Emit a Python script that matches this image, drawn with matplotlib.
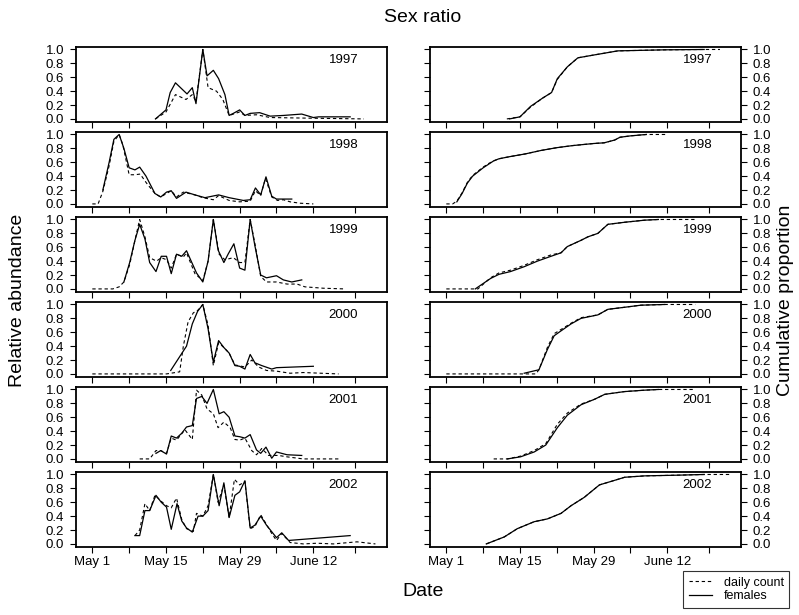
import matplotlib
matplotlib.use('Agg')
import matplotlib.pyplot as plt
from matplotlib.lines import Line2D

plt.rcParams['font.family'] = ['Liberation Sans', 'DejaVu Sans']

years = ['1997', '1998', '1999', '2000', '2001', '2002']

# x tick positions are days after May 1
tick_days = [0, 7, 14, 21, 28, 35, 42, 50]
tick_labels = ['May 1', '', 'May 15', '', 'May 29', '', 'June 12', '']

# ---- relative abundance (left column): daily count (dashed) and females (solid)
daily_97_x = [12, 14, 15.8, 17.8, 19, 19.7, 21, 22, 23.6, 24.8, 26, 28, 29, 31.2, 33.8, 42, 51.6]
daily_97_y = [0.0, 0.10, 0.35, 0.28, 0.35, 0.25, 1.0, 0.45, 0.40, 0.28, 0.05, 0.10, 0.05, 0.06, 0.02, 0.01, 0.0]
fem_97_x = [12, 14, 14.8, 15.8, 16.9, 18, 19, 19.7, 21, 21.8, 23, 24, 25.2, 26, 26.8, 28, 29, 30, 31.8, 33.8, 36.3, 39.8, 42, 43, 49]
fem_97_y = [0.0, 0.13, 0.38, 0.52, 0.44, 0.36, 0.45, 0.22, 1.0, 0.62, 0.70, 0.58, 0.35, 0.05, 0.08, 0.13, 0.05, 0.08, 0.09, 0.04, 0.05, 0.07, 0.02, 0.03, 0.03]

daily_98_x = [0, 1.1, 2, 3.2, 4.1, 5.1, 5.8, 7, 8.1, 9.1, 10.3, 11.9, 13, 14.1, 15, 16, 17.3, 19.5, 21, 23, 24, 26, 28, 30, 31, 32, 32.9, 34.1, 35.2, 36.3, 37.6, 39.5, 42]
daily_98_y = [0.0, 0.0, 0.18, 0.55, 0.90, 1.0, 0.85, 0.42, 0.42, 0.43, 0.30, 0.15, 0.10, 0.15, 0.19, 0.10, 0.17, 0.13, 0.09, 0.06, 0.12, 0.05, 0.03, 0.04, 0.19, 0.12, 0.37, 0.10, 0.05, 0.06, 0.03, 0.01, 0.0]
fem_98_x = [2, 3.2, 4.1, 5.1, 6, 7, 8.1, 9, 10.2, 11.9, 13, 14.1, 15, 16, 17.8, 19.5, 21.4, 24, 26, 28.7, 30, 31, 32, 33, 34.1, 35, 37.9]
fem_98_y = [0.2, 0.6, 0.93, 1.0, 0.80, 0.52, 0.49, 0.53, 0.40, 0.15, 0.10, 0.17, 0.19, 0.08, 0.17, 0.13, 0.09, 0.13, 0.09, 0.05, 0.06, 0.23, 0.13, 0.39, 0.11, 0.07, 0.07]

daily_99_x = [0, 3.9, 5.1, 6, 7.1, 8.1, 9, 10, 10.9, 12.2, 13.1, 14.1, 15, 16, 17.3, 17.9, 19.5, 21, 22, 23, 24.1, 25.2, 26.8, 28, 29, 30, 30.9, 32, 33.1, 35, 37, 38.9, 40.4, 43.9, 48]
daily_99_y = [0.0, 0.0, 0.03, 0.10, 0.35, 0.70, 1.0, 0.75, 0.45, 0.40, 0.45, 0.42, 0.30, 0.50, 0.46, 0.52, 0.22, 0.12, 0.40, 1.0, 0.50, 0.42, 0.45, 0.38, 0.38, 1.0, 0.65, 0.18, 0.10, 0.10, 0.07, 0.07, 0.03, 0.01, 0.0]
fem_99_x = [6, 7.1, 8.1, 9, 10, 10.9, 12.1, 13.1, 14.1, 15, 16, 17, 17.9, 19.8, 21, 22, 23, 23.9, 25, 25.8, 26.9, 28, 29, 30, 30.9, 32, 33.1, 35, 36.3, 37.9, 39.8]
fem_99_y = [0.10, 0.38, 0.70, 0.93, 0.72, 0.38, 0.25, 0.47, 0.47, 0.22, 0.50, 0.47, 0.55, 0.23, 0.10, 0.40, 1.0, 0.56, 0.38, 0.50, 0.65, 0.30, 0.27, 1.0, 0.62, 0.20, 0.16, 0.19, 0.13, 0.10, 0.13]

daily_00_x = [0, 14.1, 16.6, 17.3, 18.2, 19.2, 20.1, 21, 22, 23, 24, 25, 26, 27.1, 29, 30.3, 31.6, 33.1, 35, 37.6, 40.1, 46.8]
daily_00_y = [0.0, 0.0, 0.03, 0.40, 0.75, 0.88, 0.92, 1.0, 0.70, 0.12, 0.45, 0.38, 0.30, 0.13, 0.10, 0.20, 0.10, 0.05, 0.04, 0.01, 0.02, 0.0]
fem_00_x = [14.9, 17.9, 19, 20, 21, 22, 23, 24, 25, 26, 27.1, 28, 29, 30, 30.9, 32.2, 34.1, 35, 42]
fem_00_y = [0.05, 0.40, 0.72, 0.90, 1.0, 0.65, 0.17, 0.48, 0.38, 0.30, 0.12, 0.11, 0.07, 0.28, 0.16, 0.12, 0.07, 0.09, 0.11]

daily_01_x = [9, 10.9, 12.1, 13, 14.1, 15, 16, 17.6, 19, 19.8, 20.8, 21.8, 23, 23.9, 25, 26.2, 27.1, 28, 29, 30.3, 31.2, 32.2, 33.5, 35.4, 37, 40.1, 46.8]
daily_01_y = [0.0, 0.0, 0.12, 0.12, 0.08, 0.30, 0.27, 0.42, 0.28, 0.99, 0.92, 0.72, 0.65, 0.45, 0.53, 0.45, 0.28, 0.27, 0.30, 0.12, 0.06, 0.15, 0.05, 0.05, 0.03, 0.0, 0.0]
fem_01_x = [12.1, 13, 14.1, 15, 16, 17, 17.9, 19, 19.8, 20.8, 21.8, 23, 24.1, 25, 26, 27.1, 28, 29, 30, 31.2, 32, 33, 34.1, 35, 37, 39.8]
fem_01_y = [0.08, 0.12, 0.07, 0.33, 0.30, 0.37, 0.46, 0.48, 0.87, 0.90, 0.80, 1.0, 0.65, 0.68, 0.60, 0.33, 0.32, 0.30, 0.35, 0.13, 0.08, 0.17, 0.01, 0.10, 0.06, 0.05]

daily_02_x = [8.1, 9, 10, 10.9, 11.9, 13, 14.1, 15, 16, 17, 17.9, 19.2, 19.8, 21, 22, 23, 23.9, 25, 26, 27, 28, 29, 30, 30.9, 32, 33.1, 34.1, 35, 36, 37.6, 40.1, 42.7, 45.8, 50.3, 53.8]
daily_02_y = [0.12, 0.20, 0.58, 0.48, 0.70, 0.62, 0.55, 0.52, 0.66, 0.35, 0.22, 0.18, 0.44, 0.40, 0.55, 1.0, 0.60, 0.85, 0.38, 0.93, 0.85, 0.90, 0.22, 0.25, 0.42, 0.28, 0.15, 0.05, 0.15, 0.02, 0.0, 0.01, 0.0, 0.03, 0.0]
fem_02_x = [8.1, 9, 10, 10.9, 12.1, 13.1, 14.1, 15, 16.1, 17, 17.9, 19, 20.1, 21, 22, 23, 24.1, 25, 26, 27.1, 28, 29, 30, 30.9, 32, 33.1, 35, 36, 37.3, 49]
fem_02_y = [0.12, 0.12, 0.48, 0.48, 0.70, 0.60, 0.53, 0.21, 0.58, 0.33, 0.23, 0.17, 0.40, 0.40, 0.48, 1.0, 0.55, 0.88, 0.38, 0.70, 0.75, 0.91, 0.23, 0.27, 0.40, 0.27, 0.09, 0.16, 0.05, 0.12]

# ---- cumulative proportion (right column)
cdaily_97_x = [11.5, 14, 16, 18.3, 20, 21.1, 23, 25, 28, 32.6, 41.5, 49, 52]
cdaily_97_y = [0.0, 0.03, 0.17, 0.30, 0.38, 0.57, 0.75, 0.88, 0.92, 0.98, 0.995, 1.0, 1.0]
cfem_97_x = [12, 14, 16, 18.3, 20, 21.1, 23, 25, 28, 32.6, 41.5, 49]
cfem_97_y = [0.0, 0.03, 0.18, 0.30, 0.38, 0.58, 0.75, 0.88, 0.92, 0.98, 0.995, 1.0]

cdaily_98_x = [0, 1.2, 2, 3, 4, 5, 6, 7, 8, 9, 10, 12, 15, 18, 21, 24, 28, 30, 32, 33, 35, 38, 42]
cdaily_98_y = [0.0, 0.0, 0.04, 0.16, 0.31, 0.41, 0.47, 0.53, 0.58, 0.62, 0.65, 0.68, 0.72, 0.77, 0.81, 0.84, 0.87, 0.88, 0.92, 0.96, 0.98, 1.0, 1.0]
cfem_98_x = [2, 3, 4, 5, 6, 7, 8, 9, 10, 12, 15, 18, 21, 24, 28, 30, 32, 33, 35, 38]
cfem_98_y = [0.03, 0.15, 0.30, 0.40, 0.46, 0.52, 0.57, 0.62, 0.65, 0.68, 0.72, 0.77, 0.81, 0.84, 0.87, 0.88, 0.92, 0.96, 0.98, 1.0]

cdaily_99_x = [0, 6, 8.4, 10, 12.2, 14.8, 17.3, 19.9, 21.8, 23, 25.6, 26.9, 28.8, 30.7, 33.9, 37.7, 40.3, 47.3]
cdaily_99_y = [0.0, 0.0, 0.16, 0.23, 0.27, 0.34, 0.42, 0.49, 0.52, 0.61, 0.70, 0.75, 0.80, 0.93, 0.96, 0.99, 1.0, 1.0]
cfem_99_x = [5.5, 8.4, 10, 12.2, 14.8, 17.3, 19.9, 21.8, 23, 25.6, 26.9, 28.8, 30.7, 33.9, 37.7, 40.3]
cfem_99_y = [0.0, 0.15, 0.21, 0.25, 0.32, 0.40, 0.47, 0.52, 0.61, 0.70, 0.75, 0.80, 0.93, 0.96, 0.99, 1.0]

cdaily_00_x = [0, 14.8, 17, 17.6, 19.2, 20.5, 21.8, 23.7, 25.6, 28.8, 30.7, 33.9, 37, 41.5, 47.3]
cdaily_00_y = [0.0, 0.0, 0.0, 0.06, 0.38, 0.58, 0.64, 0.73, 0.81, 0.85, 0.93, 0.96, 0.99, 1.0, 1.0]
cfem_00_x = [14.8, 17.6, 19.2, 20.5, 21.8, 23.7, 25.6, 28.8, 30.7, 33.9, 37, 41.5]
cfem_00_y = [0.01, 0.06, 0.35, 0.55, 0.62, 0.72, 0.80, 0.85, 0.93, 0.96, 0.99, 1.0]

cdaily_01_x = [9, 11.6, 14.1, 16.7, 18.9, 21.1, 23, 25.6, 28.2, 30.1, 33.9, 37.7, 40.3, 47.3]
cdaily_01_y = [0.0, 0.0, 0.04, 0.12, 0.22, 0.50, 0.66, 0.79, 0.86, 0.93, 0.97, 0.99, 1.0, 1.0]
cfem_01_x = [11.6, 14.1, 16.7, 18.9, 21.1, 23, 25.6, 28.2, 30.1, 33.9, 37.7, 40.3]
cfem_01_y = [0.0, 0.03, 0.10, 0.20, 0.45, 0.63, 0.78, 0.86, 0.93, 0.97, 0.99, 1.0]

cdaily_02_x = [7.6, 11, 13.5, 16.7, 19.2, 21.8, 23.7, 26.2, 29.1, 31.3, 33.9, 37.7, 44, 49, 54]
cdaily_02_y = [0.0, 0.10, 0.22, 0.32, 0.36, 0.44, 0.55, 0.67, 0.85, 0.90, 0.96, 0.98, 0.99, 1.0, 1.0]
cfem_02_x = [7.6, 11, 13.5, 16.7, 19.2, 21.8, 23.7, 26.2, 29.1, 31.3, 33.9, 37.7, 44, 49]
cfem_02_y = [0.0, 0.10, 0.22, 0.32, 0.36, 0.44, 0.55, 0.67, 0.85, 0.90, 0.96, 0.98, 0.99, 1.0]

left_data = [
    (daily_97_x, daily_97_y, fem_97_x, fem_97_y),
    (daily_98_x, daily_98_y, fem_98_x, fem_98_y),
    (daily_99_x, daily_99_y, fem_99_x, fem_99_y),
    (daily_00_x, daily_00_y, fem_00_x, fem_00_y),
    (daily_01_x, daily_01_y, fem_01_x, fem_01_y),
    (daily_02_x, daily_02_y, fem_02_x, fem_02_y),
]
right_data = [
    (cdaily_97_x, cdaily_97_y, cfem_97_x, cfem_97_y),
    (cdaily_98_x, cdaily_98_y, cfem_98_x, cfem_98_y),
    (cdaily_99_x, cdaily_99_y, cfem_99_x, cfem_99_y),
    (cdaily_00_x, cdaily_00_y, cfem_00_x, cfem_00_y),
    (cdaily_01_x, cdaily_01_y, cfem_01_x, cfem_01_y),
    (cdaily_02_x, cdaily_02_y, cfem_02_x, cfem_02_y),
]

W, H = 799, 615
fig = plt.figure(figsize=(W / 100, H / 100), dpi=100)

DASH = (0, (3, 2.5))
FS = 9.5


def style_axis(ax, last, right_col):
    ax.set_xlim(-3.1, 56)
    ax.set_ylim(-0.04, 1.04)
    ax.set_xticks(tick_days)
    ax.set_yticks([0, 0.2, 0.4, 0.6, 0.8, 1.0])
    ax.set_yticklabels(['0.0', '0.2', '0.4', '0.6', '0.8', '1.0'])
    if last:
        ax.set_xticklabels(tick_labels)
    else:
        ax.set_xticklabels([])
    ax.tick_params(direction='out', length=4.5, width=0.8, labelsize=FS, pad=2)
    ax.tick_params(axis='y', pad=4)
    if right_col:
        ax.tick_params(axis='y', left=True, right=True, labelleft=False, labelright=True)
    for s in ax.spines.values():
        s.set_linewidth(1.3)


for i, year in enumerate(years):
    top = 46.7 + 85 * i
    bottom = 1 - (top + 75) / H
    last = i == len(years) - 1

    axl = fig.add_axes([76 / W, bottom, 311 / W, 75 / H])
    dx, dy, fx, fy = left_data[i]
    axl.plot(dx, dy, color='black', lw=0.8, linestyle=DASH)
    axl.plot(fx, fy, color='black', lw=0.9)
    style_axis(axl, last, False)
    axl.text(0.86, 0.82, year, transform=axl.transAxes, ha='center', va='center', fontsize=FS)

    axr = fig.add_axes([430 / W, bottom, 311 / W, 75 / H])
    dx, dy, fx, fy = right_data[i]
    axr.plot(dx, dy, color='black', lw=0.8, linestyle=DASH)
    axr.plot(fx, fy, color='black', lw=0.9)
    style_axis(axr, last, True)
    axr.text(0.86, 0.82, year, transform=axr.transAxes, ha='center', va='center', fontsize=FS)

fig.text(423 / W, 1 - 18 / H, 'Sex ratio', ha='center', va='center', fontsize=14)
fig.text(423 / W, 1 - 592 / H, 'Date', ha='center', va='center', fontsize=14)
fig.text(18 / W, 1 - 300 / H, 'Relative abundance', ha='center', va='center', rotation=90, fontsize=14)
fig.text(785 / W, 1 - 300 / H, 'Cumulative proportion', ha='center', va='center', rotation=90, fontsize=14)

handles = [Line2D([], [], color='black', lw=0.8, linestyle=DASH),
           Line2D([], [], color='black', lw=0.9)]
leg = fig.legend(handles, ['daily count', 'females'], loc='upper left',
                 bbox_to_anchor=(683 / W, 1 - 571 / H), fontsize=9,
                 frameon=True, fancybox=False, handlelength=1.9,
                 handletextpad=0.9, borderpad=0.45, borderaxespad=0,
                 labelspacing=0.1)
leg.get_frame().set_edgecolor('black')
leg.get_frame().set_linewidth(0.8)

fig.savefig('out.png', dpi=100)
